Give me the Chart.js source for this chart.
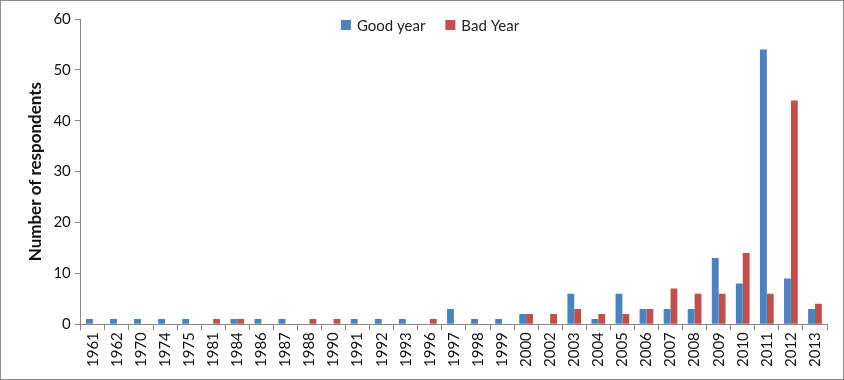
<!DOCTYPE html>
<html><head><meta charset="utf-8">
<script src="https://cdn.jsdelivr.net/npm/chart.js@4"></script>
<style>
html,body{margin:0;padding:0;background:#fff;}
#wrap{position:absolute;left:0;top:0;width:842px;height:378px;border:1px solid #8c8c8c;}
canvas{display:block;}
</style></head>
<body>
<div id="wrap"><canvas id="c" width="842" height="378"></canvas></div>
<script>
const categories = ["1961","1962","1970","1974","1975","1981","1984","1986","1987","1988","1990","1991","1992","1993","1996","1997","1998","1999","2000","2002","2003","2004","2005","2006","2007","2008","2009","2010","2011","2012","2013"];
const goodYear = [1,1,1,1,1,0,1,1,1,0,0,1,1,1,0,3,1,1,2,0,6,1,6,3,3,3,13,8,54,9,3];
const badYear  = [0,0,0,0,0,1,1,0,0,1,1,0,0,0,1,0,0,0,2,2,3,2,2,3,7,6,6,14,6,44,4];
const yTicks = {min:0, max:60, step:10};

const FONT = "Lato, 'Open Sans', sans-serif";

const topLegend = {
  id:'topLegend',
  afterDraw(chart){
    const ctx = chart.ctx;
    const ds = chart.data.datasets;
    ctx.save();
    ctx.font = '15px ' + FONT;
    ctx.textBaseline = 'middle';
    const box = 10, gap = 6, itemGap = 20;
    const widths = ds.map(d => box + gap + ctx.measureText(d.label).width);
    let x = (chart.chartArea.left + chart.chartArea.right)/2 - 113;
    const y = 24;
    ds.forEach((d,i) => {
      ctx.fillStyle = d.backgroundColor;
      ctx.fillRect(x, y - box/2, box, box);
      ctx.fillStyle = '#222';
      ctx.fillText(d.label, x + box + gap, y + 1);
      x += widths[i] + itemGap;
    });
    ctx.restore();
  }
};

new Chart(document.getElementById('c'), {
  type: 'bar',
  data: {
    labels: categories,
    datasets: [
      {label:'Good year', data: goodYear, backgroundColor:'#4F81BD', categoryPercentage:0.57, barPercentage:1.0},
      {label:'Bad Year', data: badYear, backgroundColor:'#C0504D', categoryPercentage:0.57, barPercentage:1.0}
    ]
  },
  plugins:[topLegend],
  options: {
    responsive:false, animation:false, devicePixelRatio:1,
    layout:{padding:{left:24, right:16, top:18, bottom:10}},
    plugins:{
      legend:{display:false},
      tooltip:{enabled:false}
    },
    scales:{
      x:{
        grid:{drawOnChartArea:false, offset:true, color:'#888', tickLength:6},
        border:{color:'#888'},
        ticks:{maxRotation:90, minRotation:90, color:'#111', font:{family:FONT, size:15}, padding:2}
      },
      y:{
        min:yTicks.min, max:yTicks.max,
        grid:{drawOnChartArea:false, color:'#888', tickLength:6},
        border:{color:'#888'},
        ticks:{stepSize:yTicks.step, color:'#111', font:{family:FONT, size:15}, padding:4},
        title:{display:true, text:'Number of respondents', color:'#111', font:{family:FONT, size:17, weight:'bold'}, padding:{top:0,bottom:4}}
      }
    }
  }
});
</script>
</body></html>
